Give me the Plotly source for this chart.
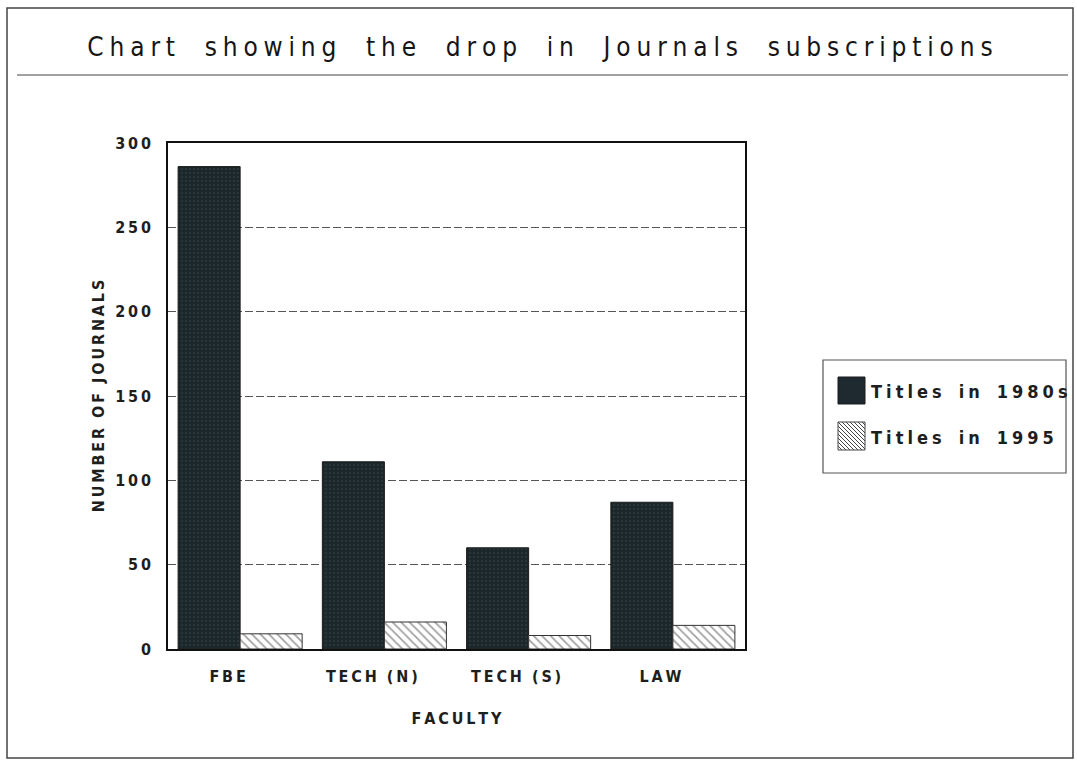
import plotly.graph_objects as go

# ---- data -------------------------------------------------------------
faculties = ["FBE", "TECH (N)", "TECH (S)", "LAW"]
titles_1980s = [286, 111, 60, 87]
titles_1995 = [9, 16, 8, 14]
y_ticks = [0, 50, 100, 150, 200, 250, 300]
series_names = ["Titles in 1980s", "Titles in 1995"]
chart_title = "Chart showing the drop in Journals subscriptions"
x_title = "FACULTY"
y_title = "NUMBER OF JOURNALS"

# ---- layout constants (pixels) -----------------------------------------
W, H = 1077, 760
PL, PR, PT, PB = 168, 745, 143, 649
FONT = "DejaVu Sans Condensed, Liberation Sans Narrow, DejaVu Sans, Arial"
INK = "#1e1e1e"
NB = "\u00a0"      # non-breaking space
THIN = "\u2009"    # thin space
QUAD4 = "\u2005"   # four-per-em space


def spaced(text, letter=THIN, word=NB * 2, tail=""):
    """Tracked-out text: a small gap between letters, a wider one between words."""
    words = text.split(" ")
    return word.join(letter.join(w) for w in words) + tail


def px_x(x):
    return (x - PL) / (PR - PL)


def px_y(y):
    return (PB - y) / (PB - PT)


fig = go.Figure()

fig.add_trace(go.Bar(
    x=faculties, y=titles_1980s, name=series_names[0],
    marker=dict(
        color="#1c2527",
        line=dict(color="#1a1a1a", width=1),
        pattern=dict(shape=".", size=4, solidity=0.35,
                     fgcolor="#2f4852", bgcolor="#1c2527"),
    ),
    showlegend=False,
))
fig.add_trace(go.Bar(
    x=faculties, y=titles_1995, name=series_names[1],
    marker=dict(
        color="white",
        line=dict(color="#333333", width=1),
        pattern=dict(shape="\\", size=6, solidity=0.3,
                     fgcolor="#444444", bgcolor="white"),
    ),
    showlegend=False,
))

shapes = []
# outer frame and title rule
shapes.append(dict(type="rect", xref="paper", yref="paper",
                   x0=px_x(7), x1=px_x(1073), y0=px_y(8), y1=px_y(758),
                   line=dict(color="#444444", width=1.5)))
shapes.append(dict(type="line", xref="paper", yref="paper",
                   x0=px_x(17), x1=px_x(1068), y0=px_y(75), y1=px_y(75),
                   line=dict(color="#444444", width=1.2)))

# legend box
LX0, LX1, LY0, LY1 = 823, 1066, 360, 473
shapes.append(dict(type="rect", xref="paper", yref="paper",
                   x0=px_x(LX0), x1=px_x(LX1), y0=px_y(LY0), y1=px_y(LY1),
                   line=dict(color="#555555", width=1.2),
                   fillcolor="white", layer="below"))

# legend swatches
SX0, SX1 = 838, 865
sw1 = (377, 404)
sw2 = (422, 450)
shapes.append(dict(type="rect", xref="paper", yref="paper",
                   x0=px_x(SX0), x1=px_x(SX1), y0=px_y(sw1[0]), y1=px_y(sw1[1]),
                   line=dict(color="#1a1a1a", width=1), fillcolor="#1e2a30"))
shapes.append(dict(type="rect", xref="paper", yref="paper",
                   x0=px_x(SX0), x1=px_x(SX1), y0=px_y(sw2[0]), y1=px_y(sw2[1]),
                   line=dict(color="#444444", width=1), fillcolor="white"))
# hatch lines for the second swatch ("\" direction)
y0s, y1s = sw2
c = SX0 - y1s
while c <= SX1 - y0s:
    ya = max(y0s, SX0 - c)
    yb = min(y1s, SX1 - c)
    if yb > ya:
        shapes.append(dict(type="line", xref="paper", yref="paper",
                           x0=px_x(ya + c), y0=px_y(ya),
                           x1=px_x(yb + c), y1=px_y(yb),
                           line=dict(color="#444444", width=1)))
    c += 4

annotations = []
for name, (a, b) in zip(series_names, [sw1, sw2]):
    annotations.append(dict(
        xref="paper", yref="paper", x=px_x(869), y=px_y((a + b) / 2 + 1),
        xanchor="left", yanchor="middle", showarrow=False,
        text=spaced(name, letter=QUAD4, word=NB * 3),
        font=dict(family=FONT, size=18, color=INK, weight="bold"),
    ))

tick_font = dict(family=FONT, size=16, color=INK, weight="bold")

fig.update_layout(
    width=W, height=H,
    margin=dict(l=PL, r=W - PR, t=PT, b=H - PB),
    paper_bgcolor="white", plot_bgcolor="white",
    barmode="group", bargap=0.14, bargroupgap=0,
    title=dict(text=spaced(chart_title, letter=QUAD4, word=NB * 4),
               x=540 / W, xanchor="center", y=1 - 47 / H, yanchor="middle",
               font=dict(family=FONT, size=26, color="#151515")),
    font=dict(family=FONT, color=INK),
    shapes=shapes,
    annotations=annotations,
    xaxis=dict(
        type="category", range=[-0.5, 3.5],
        tickvals=faculties,
        ticktext=[spaced(f, tail=NB * 5) for f in faculties],
        tickfont=tick_font,
        ticks="outside", ticklen=12, tickcolor="rgba(0,0,0,0)",
        showline=True, mirror=True, linecolor="#111111", linewidth=1.6,
        showgrid=False,
        title=dict(text=spaced(x_title),
                   font=dict(family=FONT, size=16, color=INK, weight="bold"),
                   standoff=28),
    ),
    yaxis=dict(
        range=[0, 300],
        tickvals=y_ticks, ticktext=[spaced(str(v)) for v in y_ticks],
        tickfont=tick_font,
        ticks="outside", ticklen=12, tickcolor="rgba(0,0,0,0)",
        showline=True, mirror=True, linecolor="#111111", linewidth=1.6,
        showgrid=True, gridcolor="#555555", griddash="8px,3px", gridwidth=1,
        zeroline=False,
        title=dict(text=spaced(y_title),
                   font=dict(family=FONT, size=16, color=INK, weight="bold"),
                   standoff=7),
    ),
)

fig.write_html("out.html")
